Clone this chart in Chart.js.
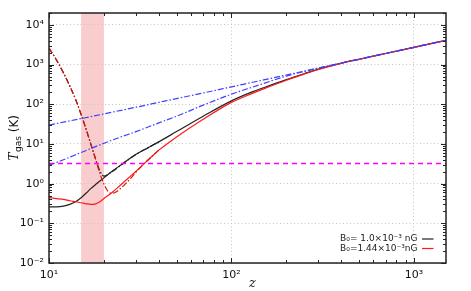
<!DOCTYPE html>
<html>
<head>
<meta charset="utf-8">
<script src="https://cdn.jsdelivr.net/npm/chart.js@4"></script>
<style>
  html, body { margin: 0; padding: 0; background: #fff; }
</style>
</head>
<body>
<canvas id="chart" width="471" height="291"></canvas>
<script>
// T_CMB
const zCmb = [10, 15, 20, 30, 50, 70, 100, 150, 200, 300, 500, 700, 1000, 1500]
const tCmb = [30, 43.6, 57.2, 84.5, 139, 193, 275, 411, 548, 820, 1365, 1910, 2730, 4090]

// gas temperature with no field
const zNoField = [10, 12, 15, 20, 25, 30, 40, 50, 70, 100, 130, 150, 200, 250, 300, 500, 700, 1000, 1500]
const tNoField = [2.9, 4.0, 6.1, 10.4, 15.3, 20.5, 34, 50, 95, 180, 270, 335, 515, 670, 815, 1365, 1910, 2730, 4090]

// horizontal reference level
const zFloor = [10, 1500]
const tFloor = [3.2, 3.2]

// B0 = 1.0e-3 nG
const zWeak = [10, 11, 12, 13, 14, 15, 16, 17, 18, 20, 22, 25, 30, 35, 40, 50, 70, 100, 130, 150, 200, 250, 300, 400, 500, 700, 1000, 1500]
const tWeak = [0.26, 0.26, 0.27, 0.30, 0.35, 0.44, 0.58, 0.76, 0.95, 1.4, 2.0, 3.05, 5.5, 8.1, 11.3, 20.5, 50, 122, 205, 262, 420, 590, 770, 1090, 1365, 1910, 2730, 4090]
const zWeakHot = [10, 11, 12, 13, 14, 15, 16, 17, 18, 19, 20, 21, 22, 25, 30, 35, 40]
const tWeakHot = [2600, 1300, 620, 290, 132, 55, 23, 9.5, 4.2, 2.1, 1.55, 1.7, 1.95, 3.0, 5.45, 8.1, 11.3]

// B0 = 1.44e-3 nG
const zStrong = [10, 11, 12, 13, 14, 15, 16, 17, 18, 19, 20, 22, 24, 26, 28, 30, 33, 36, 40, 50, 70, 100, 130, 150, 200, 250, 300, 400, 500, 700, 1000, 1500]
const tStrong = [0.45, 0.42, 0.40, 0.37, 0.35, 0.33, 0.31, 0.30, 0.31, 0.35, 0.42, 0.58, 0.82, 1.15, 1.55, 2.05, 3.1, 4.5, 7.0, 15, 42, 112, 188, 245, 405, 575, 755, 1080, 1360, 1910, 2730, 4090]
const zStrongHot = [10, 11, 12, 13, 14, 15, 16, 17, 18, 19, 20, 21, 22, 23, 24, 26, 28, 30, 33, 36, 40]
const tStrongHot = [2600, 1300, 620, 290, 132, 55, 23, 9.5, 4.2, 1.8, 0.98, 0.65, 0.57, 0.6, 0.68, 0.95, 1.35, 1.95, 3.1, 4.5, 7.0]

// shaded redshift band
const bandZ = [15, 20]

const xTicks = [10, 100, 1000]
const xTickLabels = ['10¹', '10²', '10³']
const yTicks = [0.01, 0.1, 1, 10, 100, 1000, 10000]
const yTickLabels = ['10⁻²', '10⁻¹', '10⁰', '10¹', '10²', '10³', '10⁴']

const legendLabels = ['B₀= 1.0×10⁻³ nG', 'B₀=1.44×10⁻³nG']
const legendColors = ['#222222', '#ff1a1a']

const pts = (zs, ts) => zs.map((z, i) => ({ x: z, y: ts[i] }))

const line = (data, color, dash, width = 1.2) => ({
  data,
  borderColor: color,
  borderWidth: width,
  borderDash: dash,
  pointRadius: 0,
  fill: false,
  cubicInterpolationMode: 'monotone',
})

const framePlugin = {
  id: 'frame',
  beforeDraw(chart) {
    const { ctx, chartArea: a, scales: { x } } = chart
    const x0 = x.getPixelForValue(bandZ[0])
    const x1 = x.getPixelForValue(bandZ[1])
    ctx.save()
    ctx.fillStyle = '#f9cdcd'
    ctx.fillRect(x0, a.top, x1 - x0, a.bottom - a.top)
    ctx.restore()
  },
  afterDraw(chart) {
    const { ctx, chartArea: a, scales: { x, y } } = chart
    ctx.save()
    ctx.strokeStyle = '#222'
    ctx.lineWidth = 1

    // inward ticks on all four sides
    for (let d = 1; d <= 3; d++) {
      for (let m = 1; m <= 9; m++) {
        const v = m * Math.pow(10, d)
        if (v < x.min || v > x.max) continue
        const px = Math.round(x.getPixelForValue(v)) + 0.5
        const len = m === 1 ? 5 : 3
        ctx.beginPath()
        ctx.moveTo(px, a.bottom); ctx.lineTo(px, a.bottom - len)
        ctx.moveTo(px, a.top); ctx.lineTo(px, a.top + len)
        ctx.stroke()
      }
    }
    for (let d = -2; d <= 4; d++) {
      for (let m = 1; m <= 9; m++) {
        const v = m * Math.pow(10, d)
        if (v < y.min || v > y.max) continue
        const py = Math.round(y.getPixelForValue(v)) + 0.5
        const len = m === 1 ? 5 : 3
        ctx.beginPath()
        ctx.moveTo(a.left, py); ctx.lineTo(a.left + len, py)
        ctx.moveTo(a.right, py); ctx.lineTo(a.right - len, py)
        ctx.stroke()
      }
    }

    ctx.lineWidth = 1.5
    ctx.strokeRect(a.left, a.top, a.right - a.left, a.bottom - a.top)

    // legend, sample line on the right of the text
    ctx.font = '9px "DejaVu Sans"'
    ctx.textAlign = 'right'
    ctx.textBaseline = 'middle'
    legendLabels.forEach((label, i) => {
      const ly = a.bottom - 24 + i * 9.5
      ctx.fillStyle = '#222'
      ctx.fillText(label, a.right - 28.5, ly)
      ctx.strokeStyle = legendColors[i]
      ctx.lineWidth = 1.2
      ctx.beginPath()
      ctx.moveTo(a.right - 24, ly)
      ctx.lineTo(a.right - 12.5, ly)
      ctx.stroke()
    })

    // axis titles
    ctx.fillStyle = '#111'
    ctx.textAlign = 'left'
    ctx.textBaseline = 'alphabetic'
    ctx.translate(13, (a.top + a.bottom) / 2)
    ctx.rotate(-Math.PI / 2)
    const fT = 'italic 12px "DejaVu Serif"'
    const fSub = '9px "DejaVu Sans"'
    const fK = '12px "DejaVu Sans"'
    ctx.font = fT; const wT = ctx.measureText('T').width
    ctx.font = fSub; const wS = ctx.measureText('gas').width
    ctx.font = fK; const wK = ctx.measureText(' (K)').width
    let tx = -(wT + wS + wK) / 2
    ctx.font = fT; ctx.fillText('T', tx, 4.5); tx += wT + 0.5
    ctx.font = fSub; ctx.fillText('gas', tx, 7.5); tx += wS
    ctx.font = fK; ctx.fillText(' (K)', tx, 4.5)
    ctx.setTransform(1, 0, 0, 1, 0, 0)

    ctx.font = 'italic 13px "DejaVu Serif"'
    ctx.textAlign = 'center'
    ctx.textBaseline = 'middle'
    ctx.fillText('z', (a.left + a.right) / 2 + 5, 284)
    ctx.restore()
  },
}

new Chart(document.getElementById('chart'), {
  type: 'line',
  data: {
    datasets: [
      line(pts(zCmb, tCmb), '#3f3fff', [6, 2, 1.5, 2]),
      line(pts(zNoField, tNoField), '#3f3fff', [6, 2, 1.5, 2]),
      line(pts(zFloor, tFloor), '#ff00ff', [5, 4], 1.5),
      line(pts(zStrongHot, tStrongHot), '#e01010', [6, 2, 1.5, 2]),
      line(pts(zWeakHot, tWeakHot), '#222222', [6, 2, 1.5, 2]),
      line(pts(zStrong, tStrong), '#ff1a1a', []),
      line(pts(zWeak, tWeak), '#222222', []),
    ],
  },
  options: {
    responsive: false,
    animation: false,
    events: [],
    layout: { padding: { top: 13, right: 25, left: 0, bottom: 0 } },
    plugins: { legend: { display: false }, tooltip: { enabled: false } },
    scales: {
      x: {
        type: 'logarithmic',
        min: 10,
        max: 1500,
        afterBuildTicks: (scale) => { scale.ticks = xTicks.map((v) => ({ value: v })) },
        afterFit: (scale) => { scale.height = 28 },
        ticks: {
          callback: (v) => xTickLabels[xTicks.indexOf(v)],
          font: { family: 'DejaVu Sans', size: 11 },
          color: '#111',
          padding: 6,
          maxRotation: 0,
        },
        grid: { color: '#c4c4c4', lineWidth: 1, drawTicks: false },
        border: { display: false, dash: [1, 2.5] },
      },
      y: {
        type: 'logarithmic',
        min: 0.01,
        max: 20000,
        afterBuildTicks: (scale) => { scale.ticks = yTicks.map((v) => ({ value: v })) },
        afterFit: (scale) => { scale.width = 49 },
        ticks: {
          callback: (v) => yTickLabels[yTicks.indexOf(v)],
          font: { family: 'DejaVu Sans', size: 11 },
          color: '#111',
          padding: 5,
        },
        grid: { color: '#c4c4c4', lineWidth: 1, drawTicks: false },
        border: { display: false, dash: [1, 2.5] },
      },
    },
  },
  plugins: [framePlugin],
})
</script>
</body>
</html>
